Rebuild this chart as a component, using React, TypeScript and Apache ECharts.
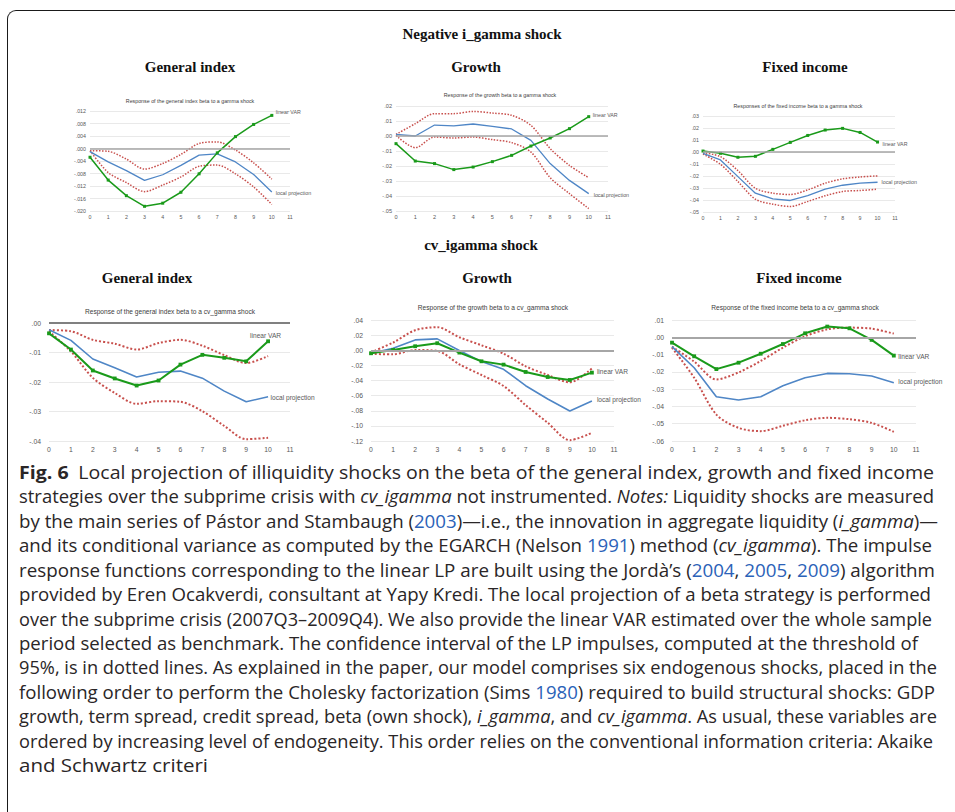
import React, { useEffect, useLayoutEffect, useRef } from 'react';
import * as echarts from 'echarts';

// Horizons (quarters after the shock)
const X_STEPS = [0, 1, 2, 3, 4, 5, 6, 7, 8, 9, 10];

// ---- Negative i_gamma shock ----
const GI_GAMMA_VAR = [-0.0028, -0.0101, -0.0151, -0.0185, -0.0175, -0.014, -0.0081, -0.0014, 0.0038, 0.0077, 0.0106];
const GI_GAMMA_LP = [-0.001, -0.0043, -0.0071, -0.0102, -0.0084, -0.0054, -0.0021, -0.0017, -0.0043, -0.0083, -0.0139];
const GI_GAMMA_UP = [-0.0007, -0.0009, -0.0034, -0.0066, -0.0048, -0.0019, 0.0016, 0.0021, -0.0005, -0.0046, -0.0098];
const GI_GAMMA_LO = [-0.0007, -0.0077, -0.0109, -0.0138, -0.0117, -0.0091, -0.0057, -0.0053, -0.0081, -0.0123, -0.0179];

const GR_GAMMA_VAR = [-0.0051, -0.0167, -0.0184, -0.0224, -0.0207, -0.0171, -0.0129, -0.0067, -0.0013, 0.0049, 0.0129];
const GR_GAMMA_LP = [0.0011, 0.0, 0.0073, 0.0067, 0.008, 0.0064, 0.0047, -0.0029, -0.0184, -0.0296, -0.0384];
const GR_GAMMA_UP = [0.0011, 0.0082, 0.0149, 0.0149, 0.0164, 0.0153, 0.0138, 0.0071, -0.0084, -0.0196, -0.0278];
const GR_GAMMA_LO = [0.0004, -0.0078, -0.0007, -0.0013, -0.0007, -0.0024, -0.0044, -0.0107, -0.0278, -0.0384, -0.0484];

const FI_GAMMA_VAR = [0.0008, -0.0011, -0.0044, -0.0036, 0.0022, 0.008, 0.0138, 0.0183, 0.0197, 0.0163, 0.0083];
const FI_GAMMA_LP = [-0.0011, -0.0066, -0.0205, -0.0343, -0.039, -0.0404, -0.0363, -0.031, -0.0277, -0.026, -0.0252];
const FI_GAMMA_UP = [-0.0006, -0.0039, -0.0155, -0.0302, -0.0343, -0.0354, -0.0316, -0.026, -0.0224, -0.0208, -0.0199];
const FI_GAMMA_LO = [-0.0017, -0.0102, -0.0246, -0.0393, -0.0435, -0.0454, -0.0412, -0.0365, -0.0329, -0.0321, -0.031];

// ---- cv_igamma shock ----
const GI_CV_VAR = [-0.0035, -0.009, -0.0161, -0.0188, -0.0212, -0.0195, -0.0141, -0.0108, -0.0118, -0.013, -0.0062];
const GI_CV_LP = [-0.0023, -0.0059, -0.0122, -0.0152, -0.0183, -0.0167, -0.0163, -0.0187, -0.0231, -0.0267, -0.025];
const GI_CV_UP = [-0.0024, -0.0028, -0.0057, -0.007, -0.009, -0.0068, -0.0057, -0.0077, -0.0109, -0.0136, -0.0112];
const GI_CV_LO = [-0.0028, -0.0096, -0.0186, -0.0237, -0.0274, -0.0265, -0.0267, -0.0299, -0.0349, -0.0394, -0.0389];

const GR_CV_VAR = [-0.004, 0.0004, 0.0053, 0.0093, -0.0031, -0.0146, -0.019, -0.0287, -0.0354, -0.0393, -0.0296];
const GR_CV_LP = [-0.004, 0.0027, 0.0137, 0.015, -0.0004, -0.015, -0.0252, -0.0469, -0.0645, -0.0804, -0.0672];
const GR_CV_UP = [-0.0027, 0.0102, 0.0265, 0.0305, 0.0172, 0.0066, -0.0044, -0.0212, -0.0327, -0.0424, -0.0239];
const GR_CV_LO = [-0.0049, -0.0053, 0.0004, -0.0009, -0.0186, -0.0327, -0.0473, -0.0725, -0.0959, -0.1189, -0.1092];

const FI_CV_VAR = [-0.0031, -0.011, -0.0184, -0.0147, -0.0095, -0.0039, 0.0023, 0.0062, 0.0052, -0.0015, -0.0106];
const FI_CV_LP = [-0.0054, -0.0176, -0.0344, -0.0363, -0.0344, -0.028, -0.0234, -0.0209, -0.0211, -0.0224, -0.0263];
const FI_CV_UP = [-0.0054, -0.0141, -0.0244, -0.0203, -0.0137, -0.006, 0.0006, 0.0046, 0.0056, 0.005, 0.0021];
const FI_CV_LO = [-0.006, -0.0234, -0.0447, -0.0524, -0.0543, -0.0512, -0.048, -0.0466, -0.0474, -0.0495, -0.0547];

// Axis settings per panel
const PANEL_TITLES = [
  'Response of the general index beta to a gamma shock',
  'Response of the growth beta to a gamma shock',
  'Responses of the fixed income beta to a gamma shock',
  'Response of the general index beta to a cv_gamma shock',
  'Response of the growth beta to a cv_gamma shock',
  'Response of the fixed income beta to a cv_gamma shock',
];
const Y_MIN = [-0.02, -0.05, -0.05, -0.04, -0.12, -0.06];
const Y_MAX = [0.012, 0.02, 0.03, 0, 0.04, 0.01];
const Y_STEP = [0.004, 0.01, 0.01, 0.01, 0.02, 0.01];
const Y_DECIMALS = [3, 2, 2, 2, 2, 2];
const X_MAX = 11;

const VAR_NAME = 'linear VAR';
const LP_NAME = 'local projection';

const SECTION_TITLES = ['Negative i_gamma shock', 'cv_igamma shock'];
const STRATEGY_TITLES = ['General index', 'Growth', 'Fixed income'];

const CAPTION_LEFT = 19;
const CAPTION_ENDS = [934, 934, 938, 932, 935, 931, 932, 918, 937, 935, 937, 933, 208];

const panelsData = [
  [GI_GAMMA_VAR, GI_GAMMA_LP, GI_GAMMA_UP, GI_GAMMA_LO],
  [GR_GAMMA_VAR, GR_GAMMA_LP, GR_GAMMA_UP, GR_GAMMA_LO],
  [FI_GAMMA_VAR, FI_GAMMA_LP, FI_GAMMA_UP, FI_GAMMA_LO],
  [GI_CV_VAR, GI_CV_LP, GI_CV_UP, GI_CV_LO],
  [GR_CV_VAR, GR_CV_LP, GR_CV_UP, GR_CV_LO],
  [FI_CV_VAR, FI_CV_LP, FI_CV_UP, FI_CV_LO],
];

// Layout / style (positions only)
const LAYOUT = [
  { grid: { left: 90, top: 111, width: 200, height: 100 }, tx: 190, ty: 101, fs: 5.3, afs: 5.3, sym: 3, lw: 1.5, varOff: [0, -3], lpOff: [0, 1] },
  { grid: { left: 396, top: 106, width: 212, height: 105 }, tx: 500, ty: 95, fs: 5.3, afs: 5.6, sym: 3, lw: 1.5, varOff: [0, -2], lpOff: [1, 1] },
  { grid: { left: 703, top: 116, width: 192, height: 96 }, tx: 798, ty: 106, fs: 5.3, afs: 5.3, sym: 3, lw: 1.5, varOff: [1, 1.5], lpOff: [0, 0] },
  { grid: { left: 49, top: 323, width: 241, height: 118 }, tx: 170, ty: 311, fs: 6.6, afs: 6.8, sym: 3.8, lw: 2, varOff: [-22, -6], lpOff: [-1.5, 1] },
  { grid: { left: 371, top: 320, width: 243, height: 121 }, tx: 493, ty: 307, fs: 6.6, afs: 6.8, sym: 3.8, lw: 2, varOff: [1, -1], lpOff: [1, -2] },
  { grid: { left: 672, top: 320, width: 244, height: 121 }, tx: 795, ty: 307, fs: 6.6, afs: 6.8, sym: 3.8, lw: 2, varOff: [0.5, 0.5], lpOff: [0.5, -1] },
];

const SECTION_POS = [{ x: 482, y: 34 }, { x: 481, y: 245 }];
const STRATEGY_POS = [
  [{ x: 190, y: 67 }, { x: 476, y: 67 }, { x: 805, y: 67 }],
  [{ x: 147, y: 278 }, { x: 487, y: 278 }, { x: 799, y: 278 }],
];

const GREEN = '#1a9a1a';
const BLUE = '#4f86c6';
const RED = '#c8504d';
const SANS = '"Liberation Sans", Arial, sans-serif';
const SERIF = '"Liberation Serif", "Times New Roman", serif';

function fmt(v: number, d: number) {
  const s = (Math.abs(v) < 1e-9 ? 0 : v).toFixed(d);
  return s.replace('0.', '.');
}

function buildOption() {
  const grid: any[] = [];
  const xAxis: any[] = [];
  const yAxis: any[] = [];
  const series: any[] = [];
  const graphic: any[] = [];

  panelsData.forEach((pd, i) => {
    const L = LAYOUT[i];
    const [vVar, vLp, vUp, vLo] = pd;
    grid.push({ ...L.grid, containLabel: false });
    xAxis.push({
      type: 'value', gridIndex: i, min: 0, max: X_MAX, interval: 1,
      axisLine: { show: false }, axisTick: { show: false }, splitLine: { show: false },
      axisLabel: { fontSize: L.afs, color: '#595959', fontFamily: SANS, margin: i < 3 ? 3 : 5, showMinLabel: true, showMaxLabel: true },
    });
    yAxis.push({
      type: 'value', gridIndex: i, min: Y_MIN[i], max: Y_MAX[i], interval: Y_STEP[i],
      axisLine: { show: false }, axisTick: { show: false },
      splitLine: { show: true, lineStyle: { color: '#e3e3e3', width: 0.8 } },
      axisLabel: { fontSize: L.afs, color: '#595959', fontFamily: SANS, margin: i < 3 ? 4 : 8, formatter: (v: number) => fmt(v, Y_DECIMALS[i]) },
    });
    const pts = (arr: number[]) => X_STEPS.map((x, k) => [x, arr[k]]);
    // zero line
    series.push({
      type: 'line', xAxisIndex: i, yAxisIndex: i, data: [], z: 1, silent: true,
      markLine: {
        silent: true, symbol: 'none', label: { show: false },
        lineStyle: { color: i === 3 ? '#808080' : '#a6a6a6', width: i < 3 ? 1.5 : 2, type: 'solid' },
        data: [{ yAxis: 0 }],
      },
    });
    const dotted = { color: RED, width: i < 3 ? 1.5 : 2, type: i < 3 ? [1.5, 1.5] : [2, 2] };
    series.push({ type: 'line', xAxisIndex: i, yAxisIndex: i, data: pts(vUp), symbol: 'none', smooth: 0.3, lineStyle: dotted, z: 2 });
    series.push({ type: 'line', xAxisIndex: i, yAxisIndex: i, data: pts(vLo), symbol: 'none', smooth: 0.3, lineStyle: dotted, z: 2 });
    series.push({
      type: 'line', xAxisIndex: i, yAxisIndex: i, name: LP_NAME, data: pts(vLp), symbol: 'none',
      lineStyle: { color: BLUE, width: i < 3 ? 1.3 : 1.6 }, z: 3,
      endLabel: { show: true, formatter: LP_NAME, fontSize: L.fs, color: '#595959', fontFamily: SANS, distance: 4, offset: L.lpOff },
    });
    series.push({
      type: 'line', xAxisIndex: i, yAxisIndex: i, name: VAR_NAME, data: pts(vVar),
      symbol: 'rect', symbolSize: L.sym, showSymbol: true,
      itemStyle: { color: GREEN }, lineStyle: { color: GREEN, width: L.lw }, z: 4,
      endLabel: { show: true, formatter: VAR_NAME, fontSize: L.fs, color: '#595959', fontFamily: SANS, distance: 4, offset: L.varOff },
    });
    graphic.push({
      type: 'text', x: L.tx, y: L.ty,
      style: { text: PANEL_TITLES[i], fontSize: L.fs, fontFamily: SANS, fill: '#404040', align: 'center', verticalAlign: 'middle' },
    });
  });

  SECTION_TITLES.forEach((t, r) => {
    graphic.push({
      type: 'text', x: SECTION_POS[r].x, y: SECTION_POS[r].y,
      style: { text: t, fontSize: 15, fontWeight: 'bold', fontFamily: SERIF, fill: '#111', align: 'center', verticalAlign: 'middle' },
    });
    STRATEGY_TITLES.forEach((s, c) => {
      graphic.push({
        type: 'text', x: STRATEGY_POS[r][c].x, y: STRATEGY_POS[r][c].y,
        style: { text: s, fontSize: 15, fontWeight: 'bold', fontFamily: SERIF, fill: '#111', align: 'center', verticalAlign: 'middle' },
      });
    });
  });

  return { animation: false, backgroundColor: 'transparent', grid, xAxis, yAxis, series, graphic };
}

const LINK: React.CSSProperties = { color: '#2b62b8' };

const captionLines: React.ReactNode[] = [
  <><b>Fig. 6</b>{'\u2002'}Local projection of illiquidity shocks on the beta of the general index, growth and fixed income</>,
  <>strategies over the subprime crisis with <i>cv_igamma</i> not instrumented. <i>Notes:</i> Liquidity shocks are measured</>,
  <>by the main series of Pástor and Stambaugh (<span style={LINK}>2003</span>)—i.e., the innovation in aggregate liquidity (<i>i_gamma</i>)—</>,
  <>and its conditional variance as computed by the EGARCH (Nelson <span style={LINK}>1991</span>) method (<i>cv_igamma</i>). The impulse</>,
  <>response functions corresponding to the linear LP are built using the Jordà’s (<span style={LINK}>2004</span>, <span style={LINK}>2005</span>, <span style={LINK}>2009</span>) algorithm</>,
  <>provided by Eren Ocakverdi, consultant at Yapy Kredi. The local projection of a beta strategy is performed</>,
  <>over the subprime crisis (2007Q3–2009Q4). We also provide the linear VAR estimated over the whole sample</>,
  <>period selected as benchmark. The confidence interval of the LP impulses, computed at the threshold of</>,
  <>95%, is in dotted lines. As explained in the paper, our model comprises six endogenous shocks, placed in the</>,
  <>following order to perform the Cholesky factorization (Sims <span style={LINK}>1980</span>) required to build structural shocks: GDP</>,
  <>growth, term spread, credit spread, beta (own shock), <i>i_gamma</i>, and <i>cv_igamma</i>. As usual, these variables are</>,
  <>ordered by increasing level of endogeneity. This order relies on the conventional information criteria: Akaike</>,
  <>and Schwartz criteri</>,
];

function Caption() {
  const refs = useRef<(HTMLSpanElement | null)[]>([]);
  useLayoutEffect(() => {
    const fit = () => {
      refs.current.forEach((el, i) => {
        if (!el) return;
        el.style.transform = 'none';
        const w = el.getBoundingClientRect().width;
        const target = CAPTION_ENDS[i] - CAPTION_LEFT;
        if (w > 0) el.style.transform = `scaleX(${target / w})`;
      });
    };
    fit();
    const f: any = (document as any).fonts;
    if (f && f.ready) f.ready.then(fit);
  }, []);
  return (
    <>
      {captionLines.map((ln, i) => (
        <div key={i} style={{ position: 'absolute', left: CAPTION_LEFT, top: 459 + i * 24.42, height: 26, whiteSpace: 'nowrap', lineHeight: '26px' }}>
          <span
            ref={(el) => { refs.current[i] = el; }}
            style={{ display: 'inline-block', transformOrigin: '0 0', fontFamily: '"Open Sans", "Noto Sans", sans-serif', fontSize: 18, color: '#2a2627' }}
          >
            {ln}
          </span>
        </div>
      ))}
    </>
  );
}

export default function App() {
  const ref = useRef<HTMLDivElement>(null);
  useEffect(() => {
    if (!ref.current) return;
    const chart = echarts.init(ref.current, null, { renderer: 'svg' });
    chart.setOption(buildOption() as any);
    return () => chart.dispose();
  }, []);
  return (
    <div style={{ position: 'absolute', left: 0, top: 0, width: 955, height: 812, overflow: 'hidden', background: '#fff' }}>
      <div style={{ position: 'absolute', left: 7, top: 10, width: 1100, height: 1000, borderLeft: '1.5px solid #1a1a1a', borderTop: '1.5px solid #1a1a1a', borderTopLeftRadius: 9 }} />
      <div ref={ref} style={{ position: 'absolute', left: 0, top: 0, width: 955, height: 812 }} />
      <Caption />
    </div>
  );
}
